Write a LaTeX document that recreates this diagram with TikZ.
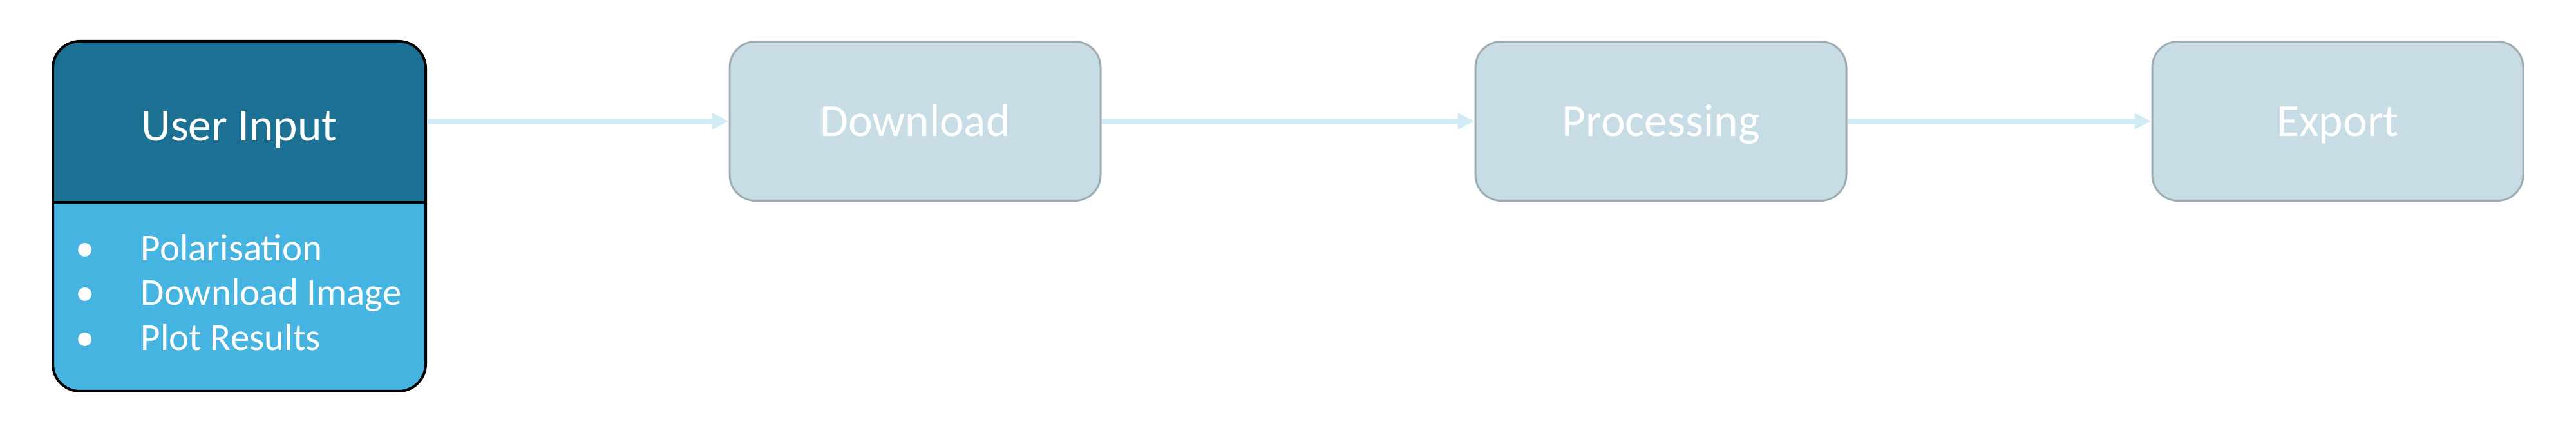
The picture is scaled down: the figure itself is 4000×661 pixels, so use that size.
\documentclass[tikz,border=0pt]{standalone}
\usepackage{fontspec}
\setmainfont{Carlito}
\usetikzlibrary{arrows.meta}
\definecolor{udark}{HTML}{1C7093}
\definecolor{ulight}{HTML}{46B4E1}
\definecolor{gfill}{HTML}{C7DCE4}
\definecolor{gline}{HTML}{9EADB4}
\definecolor{arr}{HTML}{D0EBF5}
\tikzset{
  stage/.style={draw=gline, line width=0.3mm, fill=gfill, rounded corners=4mm,
    minimum width=57.6mm, minimum height=24.7mm, inner sep=0pt,
    text=white, font=\fontsize{20.3}{24}\selectfont, text height=13.1pt, text depth=0pt},
  flow/.style={draw=arr, line width=0.8mm, -{Triangle[length=2.6mm,width=2.4mm]}},
  item/.style={anchor=base west, inner sep=0pt, text=white, font=\fontsize{16.8}{19.6}\selectfont},
}
\begin{document}
\begin{tikzpicture}[x=0.1mm,y=-0.1mm]
\useasboundingbox (0,0) rectangle (4000,661);
% user input box
\fill[udark, rounded corners=4.2mm] (82,64) rectangle (661,607);
\begin{scope}
\clip (70,314) rectangle (670,620);
\fill[ulight, rounded corners=4.2mm] (82,64) rectangle (661,607);
\end{scope}
\draw[black, line width=0.4mm] (82,314) -- (661,314);
\node[draw=black, line width=0.4mm, rounded corners=4.2mm, minimum width=57.9mm, minimum height=54.3mm, inner sep=0pt] (user) at (371.5,335.5) {};
\node[anchor=base, inner sep=0pt, text=white, font=\fontsize{20.3}{24}\selectfont] (title) at (371.5,219) {User Input};
\node[item, anchor=base] (b1) at (132,405) {•};
\node[item] (t1) at (218,405) {Polarisation};
\node[item, anchor=base] (b2) at (132,474) {•};
\node[item] (t2) at (218,474) {Download Image};
\node[item, anchor=base] (b3) at (132,543) {•};
\node[item] (t3) at (218,543) {Plot Results};
% stages
\node[stage] (dl) at (1421,188) {Download};
\node[stage] (proc) at (2579,188) {Processing};
\node[stage] (exp) at (3630,188) {Export};
% arrows
\draw[flow] (user.east |- dl.west) -- (dl.west);
\draw[flow] (dl.east) -- (proc.west);
\draw[flow] (proc.east) -- (exp.west);
\end{tikzpicture}
\end{document}
